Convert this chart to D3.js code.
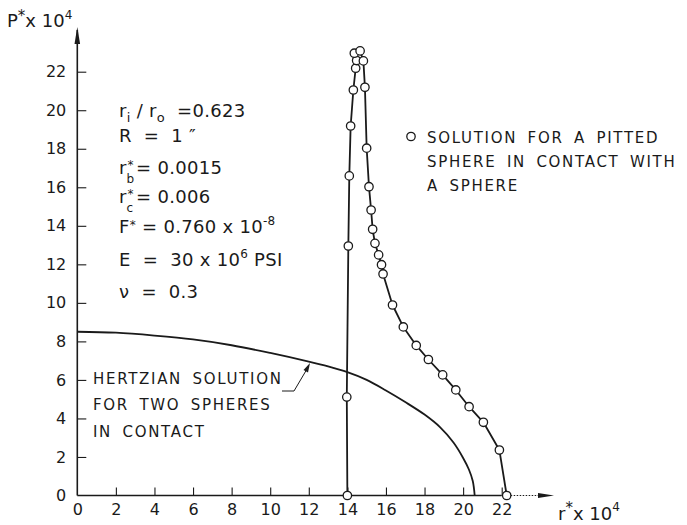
<!DOCTYPE html>
<html><head><meta charset="utf-8">
<script src="https://cdn.jsdelivr.net/npm/d3@7"></script>
<style>
body{margin:0;background:#fff}
text{font-family:"DejaVu Sans",sans-serif;fill:#1a1a1a;white-space:pre}
</style>
</head><body>
<svg id="c" width="687" height="525"></svg>
<script>
// ---- data ----
const pitR = [14.0, 13.97, 14.05, 14.1, 14.17, 14.31, 14.43, 14.48, 14.36, 14.66, 14.83, 14.91, 15.0, 15.12, 15.23, 15.31, 15.43, 15.62, 15.77, 15.85, 16.34, 16.9, 17.57, 18.2, 18.94, 19.62, 20.31, 21.05, 21.88, 22.26];
const pitP = [0, 5.11, 12.95, 16.59, 19.18, 21.05, 22.18, 22.58, 22.96, 23.08, 22.56, 21.19, 18.03, 16.03, 14.82, 13.82, 13.09, 12.49, 11.98, 11.5, 9.89, 8.75, 7.79, 7.06, 6.26, 5.48, 4.61, 3.8, 2.36, 0];
const hertzR = [0, 2, 4, 6, 8, 10, 12, 13, 14, 15, 16, 17, 18, 18.8, 19.5, 20, 20.3, 20.5, 20.6];
const hertzP = [8.5, 8.45, 8.3, 8.1, 7.8, 7.4, 6.95, 6.7, 6.4, 6.0, 5.45, 4.85, 4.2, 3.55, 2.75, 1.95, 1.35, 0.75, 0];
const xTicks = [0, 2, 4, 6, 8, 10, 12, 14, 16, 18, 20, 22];
const yTicks = [0, 2, 4, 6, 8, 10, 12, 14, 16, 18, 20, 22];
const legendLines = ["SOLUTION FOR A PITTED", "SPHERE IN CONTACT WITH", "A SPHERE"];
const hertzLines = ["HERTZIAN SOLUTION", "FOR TWO SPHERES", "IN CONTACT"];

const svg = d3.select("#c");
const x = d3.scaleLinear().domain([0, 22]).range([77.3, 501.7]);
const y = d3.scaleLinear().domain([0, 22]).range([495.5, 71.7]);
const ink = "#1a1a1a";

// axes
const xa = svg.append("g").attr("transform", `translate(0,${y(0)})`)
  .call(d3.axisBottom(x).tickValues(xTicks).tickSizeInner(-8).tickSizeOuter(0).tickPadding(8).tickFormat(d3.format("d")));
xa.select(".domain").remove();
xa.selectAll("line").attr("stroke", ink).attr("stroke-width", 1.1);
xa.selectAll("text").attr("font-size", 16).attr("font-family", "DejaVu Sans").attr("fill", ink);
xa.selectAll(".tick").filter(d => d === 0).select("line").remove();

const ya = svg.append("g").attr("transform", `translate(${x(0)},0)`)
  .call(d3.axisLeft(y).tickValues(yTicks).tickSizeInner(-9).tickSizeOuter(0).tickPadding(11).tickFormat(d3.format("d")));
ya.select(".domain").remove();
ya.selectAll("line").attr("stroke", ink).attr("stroke-width", 1.1);
ya.selectAll("text").attr("font-size", 16).attr("font-family", "DejaVu Sans").attr("fill", ink);
ya.selectAll(".tick").filter(d => d === 0).select("line").remove();

// axis lines with arrows
svg.append("line").attr("x1", x(0)).attr("x2", x(0)).attr("y1", y(0)).attr("y2", 30)
  .attr("stroke", ink).attr("stroke-width", 1.6);
svg.append("path").attr("d", `M${x(0)-2.8},44 L${x(0)},27 L${x(0)+2.8},44 Z`).attr("fill", ink);
svg.append("line").attr("x1", x(0)).attr("x2", x(22)).attr("y1", y(0)).attr("y2", y(0))
  .attr("stroke", ink).attr("stroke-width", 1.6);
svg.append("line").attr("x1", x(22)).attr("x2", 545).attr("y1", y(0)).attr("y2", y(0))
  .attr("stroke", ink).attr("stroke-width", 1).attr("stroke-dasharray", "1.5,1.5");
svg.append("path").attr("d", `M538,${y(0)-2.6} L554,${y(0)} L538,${y(0)+2.6} Z`).attr("fill", ink);

// axis titles
const yt = svg.append("text").attr("x", 7).attr("y", 27).attr("font-size", 18);
yt.append("tspan").text("P");
yt.append("tspan").attr("dy", -6).attr("font-size", 15).text("*");
yt.append("tspan").attr("dy", 6).text("x 10");
yt.append("tspan").attr("dy", -8).attr("font-size", 12).text("4");

const xt = svg.append("text").attr("x", 558).attr("y", 520).attr("font-size", 18);
xt.append("tspan").text("r");
xt.append("tspan").attr("dy", -7).attr("font-size", 15).text("*");
xt.append("tspan").attr("dy", 7).text("x 10");
xt.append("tspan").attr("dy", -9).attr("font-size", 12).text("4");

// Hertzian curve
const hz = hertzR.map((r, i) => [r, hertzP[i]]);
svg.append("path").datum(hz)
  .attr("d", d3.line().x(d => x(d[0])).y(d => y(d[1])).curve(d3.curveCatmullRom.alpha(0.5)))
  .attr("fill", "none").attr("stroke", ink).attr("stroke-width", 1.8);

// pitted solution
const pit = pitR.map((r, i) => [r, pitP[i]]);
svg.append("path").datum(pit)
  .attr("d", d3.line().x(d => x(d[0])).y(d => y(d[1])))
  .attr("fill", "none").attr("stroke", ink).attr("stroke-width", 1.8).attr("stroke-linejoin", "round");
svg.append("g").selectAll("circle").data(pit).join("circle")
  .attr("cx", d => x(d[0])).attr("cy", d => y(d[1])).attr("r", 4.2)
  .attr("fill", "#fff").attr("stroke", ink).attr("stroke-width", 1.3);

// parameter block
const params = svg.append("g").attr("font-size", 18).attr("letter-spacing", 0.3);
function line(yy, x0) { return params.append("text").attr("x", x0 || 119).attr("y", yy); }
let t = line(117);
t.append("tspan").text("r");
t.append("tspan").attr("dy", 5).attr("font-size", 13).text("i");
t.append("tspan").attr("dy", -5).text(" / r");
t.append("tspan").attr("dy", 5).attr("font-size", 13).text("o");
t.append("tspan").attr("dy", -5).text("  =0.623");
line(142).text("R  =  1 \u2033");

// r_b* and r_c* : stacked scripts as separate small texts
function starred(B, sub, rest) {
  line(B).text("r");
  params.append("text").attr("x", 127.5).attr("y", B - 5).attr("font-size", 12).text("*");
  params.append("text").attr("x", 126.5).attr("y", B + 9).attr("font-size", 12).text(sub);
  line(B, 136).text(rest);
}
starred(174, "b", "= 0.0015");
starred(203, "c", "= 0.006");

t = line(233);
t.append("tspan").text("F");
t.append("tspan").attr("dy", -4).attr("font-size", 12).text("*");
t.append("tspan").attr("dy", 4).text(" = 0.760 x 10");
t.append("tspan").attr("dy", -8).attr("font-size", 12).text("-8");
t = line(266);
t.append("tspan").text("E  =  30 x 10");
t.append("tspan").attr("dy", -8).attr("font-size", 12).text("6");
t.append("tspan").attr("dy", 8).text(" PSI");
line(298).text("\u03BD  =  0.3");

// legend
svg.append("circle").attr("cx", 411).attr("cy", 136.5).attr("r", 4.2)
  .attr("fill", "#fff").attr("stroke", ink).attr("stroke-width", 1.3);
svg.append("g").selectAll("text").data(legendLines).join("text")
  .attr("x", 427).attr("y", (d, i) => 142.5 + i * 24).attr("font-size", 15)
  .attr("letter-spacing", 1.7).attr("word-spacing", 4).text(d => d);

// Hertzian label
svg.append("g").selectAll("text").data(hertzLines).join("text")
  .attr("x", 93).attr("y", (d, i) => 383.5 + i * 26.5).attr("font-size", 15)
  .attr("letter-spacing", 1.7).attr("word-spacing", 4).text(d => d);
svg.append("path").attr("d", "M282,391 L294,391 L307,369")
  .attr("fill", "none").attr("stroke", ink).attr("stroke-width", 1);
svg.append("path").attr("d", "M310,363 L303.5,370 L308,372.5 Z").attr("fill", ink);
</script>
</body></html>
